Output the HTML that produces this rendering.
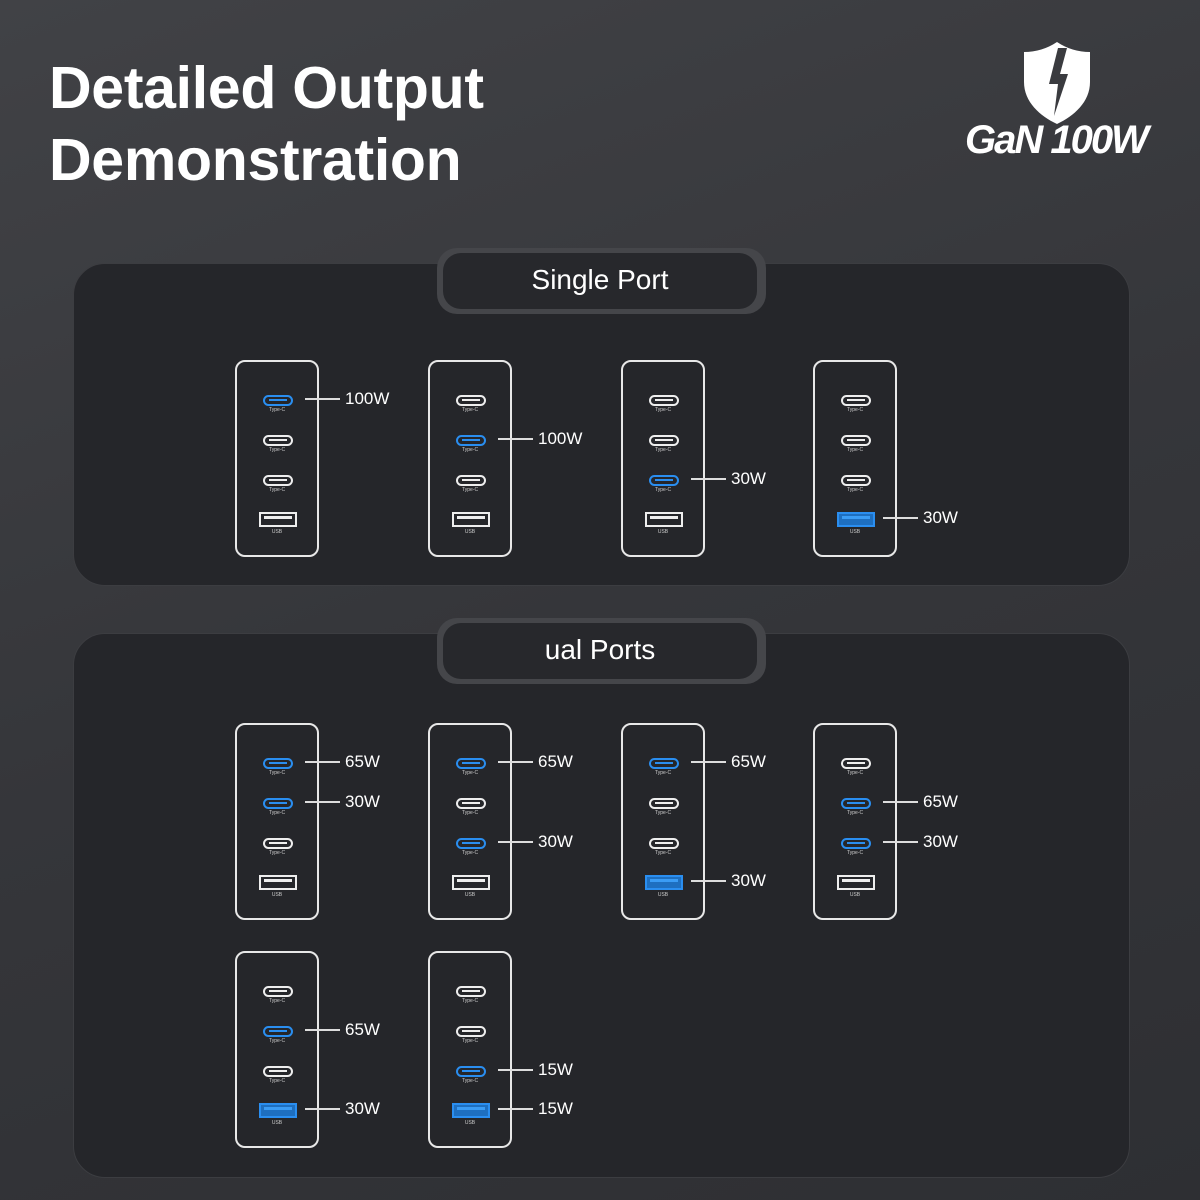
<!DOCTYPE html>
<html><head><meta charset="utf-8"><style>
html,body{margin:0;padding:0}
body{width:1200px;height:1200px;position:relative;overflow:hidden;background:linear-gradient(160deg,#414246 0%,#35363a 50%,#2e2f33 100%);font-family:"Liberation Sans",sans-serif;color:#fff}
.title{position:absolute;left:49px;top:52px;font-size:59px;font-weight:bold;line-height:72px;letter-spacing:-0.3px}
.panel{position:absolute;left:73px;width:1055px;background:#25262a;border-radius:32px;border:1px solid #3c3d41}
.tabo{position:absolute;left:437px;width:329px;height:66px;border-radius:20px;background:#45464a}
.tabi{position:absolute;left:443px;width:314px;height:56px;border-radius:18px;background:#27282c;font-size:28px;text-align:center;line-height:54px}
.dev{position:absolute;width:80px;height:193px;border:2px solid #e8e8e8;border-radius:10px}
.c{position:absolute;left:26px;width:26px;height:7px;border:2px solid #eee;border-radius:6px}
.c::after{content:"";position:absolute;left:4px;right:4px;top:2px;height:2px;background:currentColor}
.c.b{border-color:#2a8ef0;color:#2a8ef0}
.c{color:#eee}
.u{position:absolute;left:22px;width:34px;height:11px;border:2px solid #eee}
.u::after{content:"";position:absolute;left:3px;right:3px;top:2px;height:3px;background:#eee}
.u.b{border-color:#2a8ef0;background:#1e6fc0}
.u.b::after{background:#3a9cf5}
.t{position:absolute;left:0;width:80px;text-align:center;font-size:5px;color:#ccc}
.ln{position:absolute;height:2px;background:#ddd;width:35px}
.lb{position:absolute;font-size:17px;color:#fff}
</style></head><body>
<div class="title">Detailed Output<br>Demonstration</div>
<svg style="position:absolute;left:1022px;top:42px" width="70" height="82" viewBox="0 0 70 82">
<path d="M2 10 Q20 10 35 0 Q50 10 68 10 L68 40 C68 60 52 74 35 82 C18 74 2 60 2 40 Z" fill="#fff"/>
<path d="M36 6 L27 42 L36 42 L32 74 L46 32 L38 32 L45 6 Z" fill="#3a3b3f"/>
</svg>
<div style="position:absolute;left:965px;top:118px;font-size:40px;font-weight:bold;font-style:italic;letter-spacing:-2px">GaN 100W</div>

<div class="panel" style="top:263px;height:321px"></div>
<div class="tabo" style="top:248px"></div>
<div class="tabi" style="top:253px">Single Port</div>
<div class="panel" style="top:633px;height:543px"></div>
<div class="tabo" style="top:618px"></div>
<div class="tabi" style="top:623px">ual Ports</div>
<div id="d"></div>
<script>
var devs=[
[235,360,[1,0,0,0],[[0,"100W"]]],
[428,360,[0,1,0,0],[[1,"100W"]]],
[621,360,[0,0,1,0],[[2,"30W"]]],
[813,360,[0,0,0,1],[[3,"30W"]]],
[235,723,[1,1,0,0],[[0,"65W"],[1,"30W"]]],
[428,723,[1,0,1,0],[[0,"65W"],[2,"30W"]]],
[621,723,[1,0,0,1],[[0,"65W"],[3,"30W"]]],
[813,723,[0,1,1,0],[[1,"65W"],[2,"30W"]]],
[235,951,[0,1,0,1],[[1,"65W"],[3,"30W"]]],
[428,951,[0,0,1,1],[[2,"15W"],[3,"15W"]]]];
var ys=[39,79,119,158],h="";
devs.forEach(function(d){
var x=d[0],y=d[1];
h+='<div class="dev" style="left:'+x+'px;top:'+y+'px">';
for(var i=0;i<3;i++){h+='<div class="c'+(d[2][i]?' b':'')+'" style="top:'+(ys[i]-6)+'px"></div><div class="t" style="top:'+(ys[i]+6)+'px">Type-C</div>';}
h+='<div class="u'+(d[2][3]?' b':'')+'" style="top:'+(ys[3]-8)+'px"></div><div class="t" style="top:'+(ys[3]+9)+'px">USB</div></div>';
d[3].forEach(function(l){var yy=y+ys[l[0]];
h+='<div class="ln" style="left:'+(x+70)+'px;top:'+(yy-1)+'px"></div><div class="lb" style="left:'+(x+110)+'px;top:'+(yy-10)+'px">'+l[1]+'</div>';});
});
document.getElementById('d').innerHTML=h;
</script>
</body></html>
